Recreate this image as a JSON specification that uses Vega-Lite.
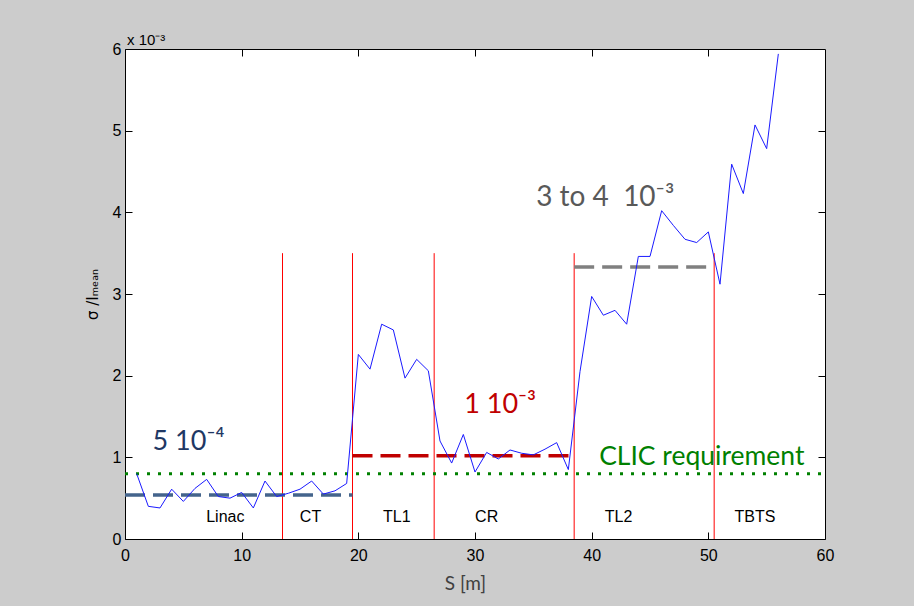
{
  "$schema": "https://vega.github.io/schema/vega-lite/v6.json",
  "width": 700,
  "height": 490,
  "autosize": {"type": "none"},
  "padding": {"left": 125, "top": 49, "right": 89, "bottom": 67},
  "background": "#cccccc",
  "config": {
    "view": {"fill": "white", "stroke": "black", "strokeWidth": 1},
    "axis": {
      "grid": false,
      "domain": false,
      "labelFlush": false,
      "tickColor": "black",
      "tickSize": -7,
      "tickWidth": 1,
      "labelFont": "Liberation Sans",
      "labelFontSize": 16,
      "labelColor": "black",
      "titleFontWeight": "normal"
    }
  },
  "datasets": {
    "profile": [
      {"s": 1, "v": 0.80}, {"s": 2, "v": 0.40}, {"s": 3, "v": 0.38}, {"s": 4, "v": 0.61},
      {"s": 5, "v": 0.46}, {"s": 6, "v": 0.62}, {"s": 7, "v": 0.73}, {"s": 8, "v": 0.52},
      {"s": 9, "v": 0.50}, {"s": 10, "v": 0.57}, {"s": 11, "v": 0.38}, {"s": 12, "v": 0.71},
      {"s": 13, "v": 0.52}, {"s": 14, "v": 0.56}, {"s": 15, "v": 0.61}, {"s": 16, "v": 0.71},
      {"s": 17, "v": 0.55}, {"s": 18, "v": 0.59}, {"s": 19, "v": 0.68}, {"s": 20, "v": 2.26},
      {"s": 21, "v": 2.08}, {"s": 22, "v": 2.63}, {"s": 23, "v": 2.56}, {"s": 24, "v": 1.97},
      {"s": 25, "v": 2.20}, {"s": 26, "v": 2.06}, {"s": 27, "v": 1.20}, {"s": 28, "v": 0.93},
      {"s": 29, "v": 1.28}, {"s": 30, "v": 0.82}, {"s": 31, "v": 1.06}, {"s": 32, "v": 0.98},
      {"s": 33, "v": 1.09}, {"s": 34, "v": 1.05}, {"s": 35, "v": 1.03}, {"s": 36, "v": 1.10},
      {"s": 37, "v": 1.18}, {"s": 38, "v": 0.85}, {"s": 39, "v": 2.05}, {"s": 40, "v": 2.97},
      {"s": 41, "v": 2.74}, {"s": 42, "v": 2.80}, {"s": 43, "v": 2.63}, {"s": 44, "v": 3.46},
      {"s": 45, "v": 3.46}, {"s": 46, "v": 4.02}, {"s": 47, "v": 3.84}, {"s": 48, "v": 3.67},
      {"s": 49, "v": 3.63}, {"s": 50, "v": 3.76}, {"s": 51, "v": 3.12}, {"s": 52, "v": 4.59},
      {"s": 53, "v": 4.23}, {"s": 54, "v": 5.07}, {"s": 55, "v": 4.78}, {"s": 56, "v": 5.94}
    ],
    "boundaries": [
      {"s": 13.5, "lo": 0, "hi": 3.5}, {"s": 19.5, "lo": 0, "hi": 3.5},
      {"s": 26.5, "lo": 0, "hi": 3.5}, {"s": 38.5, "lo": 0, "hi": 3.5},
      {"s": 50.5, "lo": 0, "hi": 3.5}
    ],
    "levels": [
      {"level": "Linac-CT", "from": 0, "to": 19.5, "v": 0.54},
      {"level": "TL1-CR", "from": 19.5, "to": 38.5, "v": 1.02},
      {"level": "TL2", "from": 38.5, "to": 50.5, "v": 3.33}
    ],
    "requirement": [{"from": 0, "to": 60, "v": 0.8}],
    "sections": [
      {"name": "Linac", "s": 8.6, "v": 0.21}, {"name": "CT", "s": 15.9, "v": 0.21},
      {"name": "TL1", "s": 23.3, "v": 0.21}, {"name": "CR", "s": 31.0, "v": 0.21},
      {"name": "TL2", "s": 42.3, "v": 0.21}, {"name": "TBTS", "s": 54.0, "v": 0.21}
    ]
  },
  "resolve": {"axis": {"x": "independent", "y": "independent"}},
  "layer": [
    {
      "data": {"name": "boundaries"},
      "mark": {"type": "rule", "color": "#ff0000", "strokeWidth": 1},
      "encoding": {
        "x": {"field": "s", "type": "quantitative", "scale": {"domain": [0, 60], "nice": false}, "axis": null},
        "y": {"field": "lo", "type": "quantitative", "scale": {"domain": [0, 6], "nice": false}, "axis": null},
        "y2": {"field": "hi"}
      }
    },
    {
      "data": {"name": "requirement"},
      "mark": {"type": "rule", "color": "#008000", "strokeWidth": 3, "strokeDash": [3, 8]},
      "encoding": {
        "x": {"field": "from", "type": "quantitative",
              "axis": {"orient": "top", "labels": false, "title": null, "values": [10, 20, 30, 40, 50]}},
        "x2": {"field": "to"},
        "y": {"field": "v", "type": "quantitative",
              "axis": {"orient": "right", "labels": false, "title": null, "values": [1, 2, 3, 4, 5]}}
      }
    },
    {
      "data": {"name": "levels"},
      "mark": {"type": "rule", "strokeWidth": 3.5, "strokeDash": [20, 8]},
      "encoding": {
        "x": {"field": "from", "type": "quantitative", "axis": null},
        "x2": {"field": "to"},
        "y": {"field": "v", "type": "quantitative", "axis": null},
        "color": {"field": "level", "type": "nominal", "legend": null,
                  "scale": {"domain": ["Linac-CT", "TL1-CR", "TL2"], "range": ["#44648c", "#c00000", "#808080"]}}
      }
    },
    {
      "data": {"name": "profile"},
      "mark": {"type": "line", "color": "#1a1aff", "strokeWidth": 1},
      "encoding": {
        "x": {"field": "s", "type": "quantitative",
              "axis": {"orient": "bottom", "values": [0, 10, 20, 30, 40, 50, 60], "labelPadding": 15,
                       "title": "S [m]", "titleFont": "Lato", "titleFontSize": 19, "titleColor": "#404040",
                       "titleX": 340, "titleY": 50, "titleAlign": "center", "titleBaseline": "alphabetic"}},
        "y": {"field": "v", "type": "quantitative",
              "axis": {"orient": "left", "values": [0, 1, 2, 3, 4, 5, 6], "labelPadding": 11,
                       "title": "σ /Iₘₑₐₙ", "titleFont": "DejaVu Sans", "titleFontSize": 15,
                       "titleColor": "black", "titlePadding": 12}}
      }
    },
    {
      "data": {"name": "sections"},
      "mark": {"type": "text", "font": "Liberation Sans", "fontSize": 16, "color": "black", "align": "center", "baseline": "alphabetic"},
      "encoding": {
        "x": {"field": "s", "type": "quantitative", "axis": null},
        "y": {"field": "v", "type": "quantitative", "axis": null},
        "text": {"field": "name"}
      }
    },
    {
      "data": {"values": [{"note": "5 10⁻⁴", "s": 2.36, "v": 1.09}]},
      "mark": {"type": "text", "font": "Lato", "fontSize": 27, "color": "#1f3864", "align": "left", "baseline": "alphabetic"},
      "encoding": {
        "x": {"field": "s", "type": "quantitative", "axis": null},
        "y": {"field": "v", "type": "quantitative", "axis": null},
        "text": {"field": "note"}
      }
    },
    {
      "data": {"values": [{"note": "1 10⁻³", "s": 29.07, "v": 1.54}]},
      "mark": {"type": "text", "font": "Lato", "fontSize": 27, "color": "#c00000", "align": "left", "baseline": "alphabetic"},
      "encoding": {
        "x": {"field": "s", "type": "quantitative", "axis": null},
        "y": {"field": "v", "type": "quantitative", "axis": null},
        "text": {"field": "note"}
      }
    },
    {
      "data": {"values": [{"note": "3 to 4\u00a0 10⁻³", "s": 35.24, "v": 4.08}]},
      "mark": {"type": "text", "font": "Lato", "fontSize": 28, "color": "#595959", "align": "left", "baseline": "alphabetic"},
      "encoding": {
        "x": {"field": "s", "type": "quantitative", "axis": null},
        "y": {"field": "v", "type": "quantitative", "axis": null},
        "text": {"field": "note"}
      }
    },
    {
      "data": {"values": [{"note": "CLIC requirement", "s": 40.64, "v": 0.906}]},
      "mark": {"type": "text", "font": "Lato", "fontSize": 26.5, "color": "#008000", "align": "left", "baseline": "alphabetic"},
      "encoding": {
        "x": {"field": "s", "type": "quantitative", "axis": null},
        "y": {"field": "v", "type": "quantitative", "axis": null},
        "text": {"field": "note"}
      }
    },
    {
      "data": {"values": [{"note": "x 10⁻³", "s": 0, "v": 6}]},
      "mark": {"type": "text", "font": "Liberation Sans", "fontSize": 15, "color": "black", "align": "left", "baseline": "alphabetic", "dx": 2, "dy": -4},
      "encoding": {
        "x": {"field": "s", "type": "quantitative", "axis": null},
        "y": {"field": "v", "type": "quantitative", "axis": null},
        "text": {"field": "note"}
      }
    }
  ]
}
